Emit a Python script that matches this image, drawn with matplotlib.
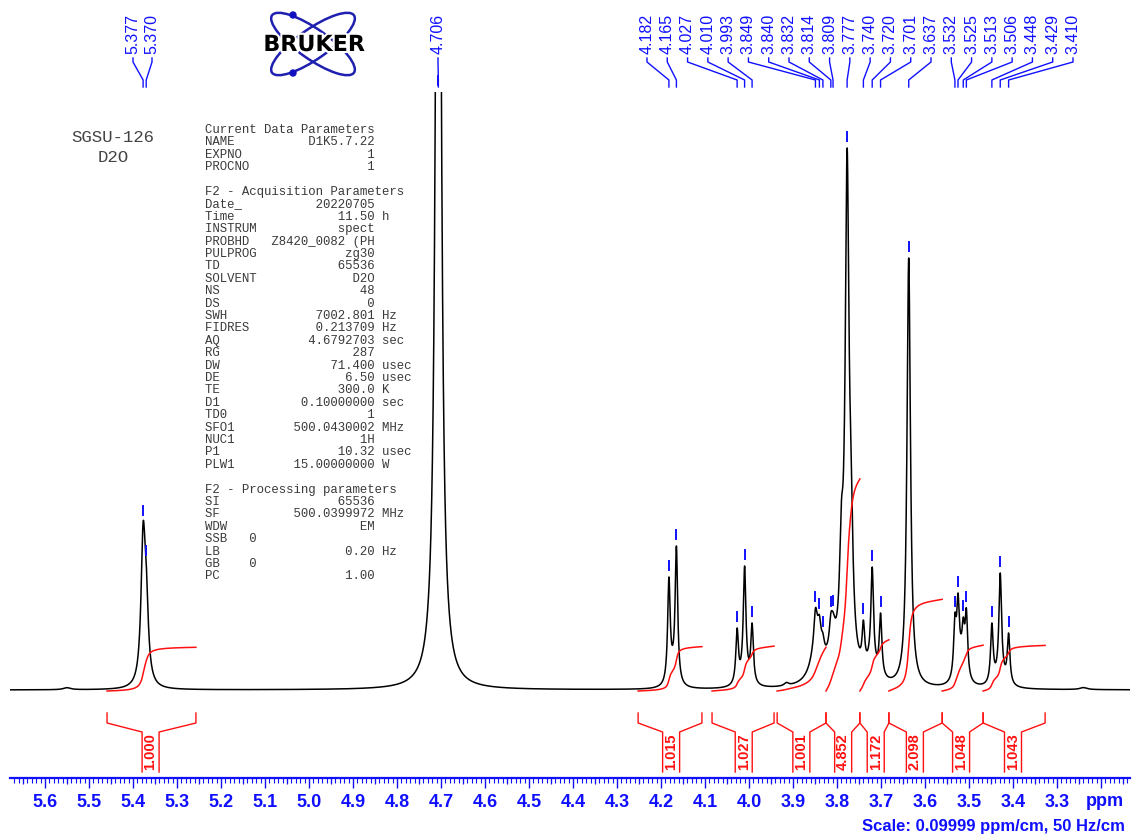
import numpy as np
import matplotlib
matplotlib.use('Agg')
import matplotlib.pyplot as plt
from matplotlib.patches import Ellipse, Circle
from matplotlib.ticker import MultipleLocator, FuncFormatter
import matplotlib.patheffects as pe

plt.rcParams['font.family'] = ['Liberation Sans', 'DejaVu Sans']

# picked peaks: position (ppm), apex height (px above baseline), half width (ppm)
peak_ppm = [5.377, 5.370, 4.706, 4.182, 4.165, 4.027, 4.010, 3.993,
            3.849, 3.840, 3.832, 3.814, 3.809, 3.777, 3.740, 3.720,
            3.701, 3.637, 3.532, 3.525, 3.513, 3.506, 3.448, 3.429, 3.410]
peak_obs = [168, 128, 1400, 113, 144, 62, 124, 67,
            82, 75, 57, 77, 78, 542, 70, 123,
            77, 432, 77, 97, 73, 82, 67, 117, 57]
peak_hwhm = [0.0058, 0.0058, 0.006, 0.0035, 0.0035, 0.0035, 0.0035, 0.0035,
             0.004, 0.004, 0.004, 0.004, 0.004, 0.005, 0.0035, 0.0035,
             0.0035, 0.0047, 0.0035, 0.0035, 0.0035, 0.0035, 0.0035, 0.0035, 0.0035]

# unpicked lines and unresolved multiplet background
broad_ppm = [3.915, 3.845, 3.810, 3.790, 3.768, 3.777, 3.722, 3.519,
             3.429, 4.010, 4.173, 5.55, 3.24]
broad_amp = [3, 45, 35, 90, 90, 50, 15, 22, 12, 12, 10, 2, 2]
broad_hwhm = [0.006, 0.015, 0.010, 0.005, 0.005, 0.012, 0.015, 0.010,
              0.012, 0.010, 0.008, 0.01, 0.01]

# integrals
int_start = [5.459, 4.252, 4.084, 3.936, 3.825, 3.748, 3.682, 3.561, 3.468]
int_end = [5.257, 4.107, 3.943, 3.825, 3.748, 3.682, 3.561, 3.468, 3.327]
int_value = [1.000, 1.015, 1.027, 1.001, 4.852, 1.172, 2.098, 1.048, 1.043]
int_label_ppm = [5.360, 4.177, 4.012, 3.881, 3.786, 3.712, 3.623, 3.518, 3.400]

param_lines = [
    "Current Data Parameters",
    ("NAME", "D1K5.7.22", ""),
    ("EXPNO", "1", ""),
    ("PROCNO", "1", ""),
    "",
    "F2 - Acquisition Parameters",
    ("Date_", "20220705", ""),
    ("Time", "11.50", "h"),
    ("INSTRUM", "spect", ""),
    ("PROBHD", "Z8420_0082 (PH", ""),
    ("PULPROG", "zg30", ""),
    ("TD", "65536", ""),
    ("SOLVENT", "D2O", ""),
    ("NS", "48", ""),
    ("DS", "0", ""),
    ("SWH", "7002.801", "Hz"),
    ("FIDRES", "0.213709", "Hz"),
    ("AQ", "4.6792703", "sec"),
    ("RG", "287", ""),
    ("DW", "71.400", "usec"),
    ("DE", "6.50", "usec"),
    ("TE", "300.0", "K"),
    ("D1", "0.10000000", "sec"),
    ("TD0", "1", ""),
    ("SFO1", "500.0430002", "MHz"),
    ("NUC1", "1H", ""),
    ("P1", "10.32", "usec"),
    ("PLW1", "15.00000000", "W"),
    "",
    "F2 - Processing parameters",
    ("SI", "65536", ""),
    ("SF", "500.0399972", "MHz"),
    ("WDW", "EM", ""),
    "SSB   0",
    ("LB", "0.20", "Hz"),
    "GB    0",
    ("PC", "1.00", ""),
]

# layout (pixels)
W, H = 1132, 840
BASE = 690          # baseline row
AX_TOP, AX_BOT = 92, 778
PX_PER_PPM = 440.0
BLUE = '#1010ff'
RED = '#ff1010'


def xppm(xp):
    return 5.6 - (xp - 45) / PX_PER_PPM


def ypx(yp):
    return BASE - yp


def lorentz(x, x0, g):
    return 1.0 / (1.0 + ((x - x0) / g) ** 2)


def main():
    x_left, x_right = xppm(10), xppm(1130)
    ppm = np.linspace(x_left, x_right, 40000)

    P = np.array(peak_ppm)
    G = np.array(peak_hwhm)
    broad_grid = np.zeros_like(ppm)
    broad_at = np.zeros_like(P)
    for bp, ba, bg in zip(broad_ppm, broad_amp, broad_hwhm):
        broad_grid += ba * lorentz(ppm, bp, bg)
        broad_at += ba * lorentz(P, bp, bg)
    # amplitudes so that the summed lines reach the read apex heights
    A = lorentz(P[:, None], P[None, :], G[None, :])
    amps = np.linalg.solve(A, np.array(peak_obs) - broad_at)
    amps = np.clip(amps, 3, None)
    spec = broad_grid.copy()
    for p, a, g in zip(P, amps, G):
        spec += a * lorentz(ppm, p, g)

    fig = plt.figure(figsize=(W / 100, H / 100), dpi=100)
    ax = fig.add_axes([10 / W, 1 - AX_BOT / H, 1120 / W, (AX_BOT - AX_TOP) / H])
    ax.set_xlim(x_left, x_right)
    ax.set_ylim(ypx(AX_BOT), ypx(AX_TOP))
    ax.patch.set_alpha(0)
    for s in ['top', 'left', 'right']:
        ax.spines[s].set_visible(False)
    ax.spines['bottom'].set_color(BLUE)
    ax.spines['bottom'].set_linewidth(1.6)
    ax.set_yticks([])

    ax.plot(ppm, spec, color='black', lw=1.1)

    # integral curves
    for s, e, v in zip(int_start, int_end, int_value):
        m = (ppm <= s) & (ppm >= e)
        cum = np.cumsum(spec[m])
        cum = cum / cum[-1] * v * 43.7 - 1
        ax.plot(ppm[m], cum, color=RED, lw=1.1)

    # integral brackets and values
    dp = 8.5 / PX_PER_PPM
    for s, e, c, v in zip(int_start, int_end, int_label_ppm, int_value):
        kw = dict(color=RED, lw=1.0, clip_on=False)
        ax.plot([s, s, c + dp, c + dp], [ypx(713), ypx(723), ypx(732), ypx(772)], **kw)
        ax.plot([e, e, c - dp, c - dp], [ypx(713), ypx(723), ypx(732), ypx(772)], **kw)
        ax.text(c, ypx(752), f'{v:.3f}', rotation=90, ha='center', va='center',
                color=RED, fontsize=10.5, fontweight='bold')

    # peak markers above each picked peak
    idx = [np.argmin(np.abs(ppm - p)) for p in P]
    for p, i in zip(P, idx):
        top = min(spec[i], ypx(AX_TOP))
        ax.plot([p, p], [top + 7, top + 16], color=BLUE, lw=1.4, clip_on=False)

    # peak labels with connectors
    groups = [(0, 2, 133, 152), (2, 3, 438, 438), (3, 25, 647, 1073)]
    for i0, i1, xa, xb in groups:
        xs = np.linspace(xa, xb, i1 - i0)
        for k, j in enumerate(range(i0, i1)):
            lx = xppm(xs[k])
            ax.plot([lx, lx, P[j], P[j]], [ypx(58), ypx(62), ypx(80), ypx(87)],
                    color=BLUE, lw=1.0, clip_on=False)
            ax.text(lx, ypx(54), f'{peak_ppm[j]:.3f}', rotation=90, ha='center',
                    va='bottom', color=BLUE, fontsize=11.5, clip_on=False)

    # x axis
    ax.xaxis.set_major_locator(MultipleLocator(0.1))
    ax.xaxis.set_minor_locator(MultipleLocator(0.01))
    ax.xaxis.set_major_formatter(FuncFormatter(lambda v, pos: f'{v:.1f}' if v > 3.25 else ''))
    ax.tick_params(axis='x', which='major', length=7.2, width=1.0, color=BLUE,
                   labelcolor=BLUE, labelsize=13, pad=4.5)
    ax.tick_params(axis='x', which='minor', length=3.4, width=0.8, color=BLUE)
    for lbl in ax.get_xticklabels():
        lbl.set_fontweight('bold')
    mids = np.arange(3.15, 5.7, 0.1)
    ax.vlines(mids, ypx(AX_BOT), ypx(AX_BOT) - 6, color=BLUE, lw=0.9, clip_on=False)
    ax.text(xppm(1105), ypx(AX_BOT) - 15, 'ppm', ha='center', va='top', color=BLUE,
            fontsize=13, fontweight='bold', clip_on=False)
    fig.text(1125 / W, 1 - 826 / H, 'Scale: 0.09999 ppm/cm, 50 Hz/cm', ha='right',
             va='center', color=BLUE, fontsize=12, fontweight='bold')

    # sample name
    fig.text(113 / W, 1 - 138 / H, 'SGSU-126', ha='center', va='center',
             family='Liberation Mono', fontsize=12.5, color='#444444')
    fig.text(113 / W, 1 - 157 / H, 'D2O', ha='center', va='center',
             family='Liberation Mono', fontsize=12.5, color='#444444')

    # acquisition / processing parameters
    for k, item in enumerate(param_lines):
        if isinstance(item, tuple):
            name, val, unit = item
            line = f'{name:<9}{val:>14} {unit}'
        else:
            line = item
        fig.text(205 / W, 1 - (130 + k * 12.4) / H, line, ha='left', va='center',
                 family='Liberation Mono', fontsize=8.9, color='#3a3a3a')

    # logo
    lax = fig.add_axes([262 / W, 1 - 80 / H, 104 / W, 72 / H])
    lax.set_xlim(0, 104)
    lax.set_ylim(0, 72)
    lax.axis('off')
    for ang in (35, -35):
        lax.add_patch(Ellipse((51, 36), 100, 30, angle=ang, fill=False,
                              ec='#2020b0', lw=1.8))
    lax.add_patch(Circle((31, 65), 3.0, color='#1010c0'))
    lax.add_patch(Circle((31, 7), 3.0, color='#1010c0'))
    lax.text(52, 35, 'BRUKER', ha='center', va='center', fontsize=16,
             fontweight='bold', family='DejaVu Sans', color='black',
             path_effects=[pe.withStroke(linewidth=3, foreground='white')])

    fig.savefig('out.png', dpi=100)


if __name__ == "__main__":
    main()
